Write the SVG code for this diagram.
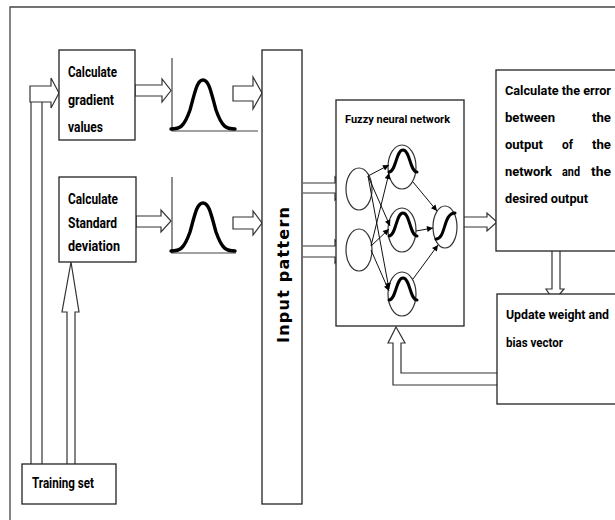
<svg xmlns="http://www.w3.org/2000/svg" width="615" height="520" viewBox="0 0 615 520">
<defs>
<marker id="ah" viewBox="0 0 10 10" refX="10" refY="5" markerWidth="7" markerHeight="6" orient="auto" markerUnits="userSpaceOnUse">
<path d="M0,0 L10,5 L0,10 Z" fill="#000"/>
</marker>
<style>
.box{fill:#fff;stroke:#222;stroke-width:1.3}
.harrow{fill:#fff;stroke:#333;stroke-width:1.2;stroke-linejoin:miter}
.line{fill:none;stroke:#333;stroke-width:1.2}
.axis{fill:none;stroke:#444;stroke-width:1.2}
.curve{fill:none;stroke:#000;stroke-width:3.4;stroke-linecap:round}
.node{fill:#fff;stroke:#333;stroke-width:1.2}
.wave{fill:none;stroke:#000;stroke-width:3;stroke-linecap:round}
.conn{fill:none;stroke:#111;stroke-width:1;marker-end:url(#ah)}
.t{font-family:Roboto,"Liberation Sans",Arial,sans-serif;font-weight:bold;font-size:13px;fill:#000}
.tl{font-family:Roboto,"Liberation Sans",Arial,sans-serif;font-weight:bold;font-size:14px;fill:#000}
.ts{font-family:Roboto,"Liberation Sans",Arial,sans-serif;font-weight:bold;font-size:11px;fill:#000}
.tv{font-family:"DejaVu Sans",Verdana,sans-serif;font-weight:bold;font-size:16px;fill:#000}
</style>
</defs>

<g id="frame">
<path d="M10,520 L10,7 L615,7" fill="none" stroke="#444" stroke-width="1.3"/>
</g>

<g id="connectors">
<path class="line" d="M31,464 L31,102"/>
<path class="line" d="M42,464 L42,102"/>
<path class="harrow" d="M30,86 L51,86 L51,78 L59,93 L51,108 L51,102 L30,102 Z"/>
<path class="harrow" d="M67,464 L67,312 L62,312 L71,262 L79,312 L75,312 L75,464"/>
<path class="harrow" d="M135,85 L162,85 L162,79 L171,90.5 L162,102 L162,96 L135,96 Z"/>
<path class="harrow" d="M136,216 L161,216 L161,210 L171,221 L161,232 L161,227 L136,227 Z"/>
<path class="harrow" d="M233,86 L253,86 L253,77 L262,93 L253,109 L253,101 L233,101 Z"/>
<path class="harrow" d="M233,217 L253,217 L253,211 L262,223 L253,235 L253,229 L233,229 Z"/>
<path class="harrow" d="M303,183 L335,183 L335,177 L346,188 L335,200 L335,193 L303,193"/>
<path class="harrow" d="M303,246 L335,246 L335,240 L346,251 L335,263 L335,257 L303,257"/>
<path class="harrow" d="M458,217 L487,217 L487,213 L497,222 L487,231 L487,227 L458,227 Z"/>
<path class="harrow" d="M552,250 L552,289 L546,289 L554,301 L564,289 L560,289 L560,250"/>
<path class="harrow" d="M497,385 L393,385 L393,343 L388,343 L396,327 L405,343 L401,343 L401,373 L497,373"/>
</g>

<g id="gradient-box">
<rect class="box" x="59" y="50" width="76" height="90"/>
<text class="tl" x="68" y="77" textLength="49" lengthAdjust="spacingAndGlyphs">Calculate</text>
<text class="tl" x="68" y="105" textLength="46" lengthAdjust="spacingAndGlyphs">gradient</text>
<text class="tl" x="68" y="132" textLength="35" lengthAdjust="spacingAndGlyphs">values</text>
</g>

<g id="std-box">
<rect class="box" x="59" y="177" width="77" height="85"/>
<text class="tl" x="68" y="204" textLength="50" lengthAdjust="spacingAndGlyphs">Calculate</text>
<text class="tl" x="68" y="228" textLength="49" lengthAdjust="spacingAndGlyphs">Standard</text>
<text class="tl" x="68" y="251" textLength="52" lengthAdjust="spacingAndGlyphs">deviation</text>
</g>

<g id="gaussian-1">
<path class="axis" d="M172,58 L172,131 L258,131"/>
<path class="curve" d="M171,129 C180,129 184,127 190,110 C195,92 197,80 203,80 C209,80 211,92 216,110 C222,127 226,129 235,129"/>
</g>

<g id="gaussian-2">
<path class="axis" d="M172,177 L172,253 M171,253 L236,253"/>
<path class="curve" d="M171,251 C180,251 184,249 190,232 C195,214 197,203 203,203 C209,203 211,214 216,232 C222,249 226,251 235,251"/>
</g>

<g id="input-pattern">
<rect class="box" x="262" y="50" width="40" height="454"/>
<text class="tv" transform="translate(289,343) rotate(-90)" textLength="136" lengthAdjust="spacing">Input pattern</text>
</g>

<g id="fuzzy-neural-network">
<rect class="box" x="336" y="100" width="128" height="226"/>
<text class="ts" x="345" y="123" textLength="105" lengthAdjust="spacingAndGlyphs">Fuzzy neural network</text>
<ellipse class="node" cx="359" cy="189" rx="13" ry="21"/>
<ellipse class="node" cx="359" cy="250" rx="13" ry="21"/>
<ellipse class="node" cx="402" cy="167" rx="14" ry="22"/>
<ellipse class="node" cx="402" cy="230" rx="14" ry="22"/>
<ellipse class="node" cx="402" cy="294" rx="14" ry="22"/>
<ellipse class="node" cx="445" cy="227" rx="12" ry="21"/>
<path class="wave" d="M389,172 C396,172 396,150 403,150 C410,150 410,172 417,172"/>
<path class="wave" d="M389,236 C396,236 396,213 403,213 C410,213 410,236 417,236"/>
<path class="wave" d="M389,300 C396,300 396,278 403,278 C410,278 410,300 417,300"/>
<path class="wave" d="M436,239 C446,239 443,213 455,213"/>
<path class="conn" d="M368,176 L389,165"/>
<path class="conn" d="M368,176 L390,226"/>
<path class="conn" d="M368,176 L389,289"/>
<path class="conn" d="M371,246 L389,173"/>
<path class="conn" d="M371,246 L389,229"/>
<path class="conn" d="M371,250 L389,291"/>
<path class="conn" d="M413,182 L437,211"/>
<path class="conn" d="M416,231 L433,228"/>
<path class="conn" d="M413,279 L438,245"/>
</g>

<g id="error-box">
<rect class="box" x="496" y="70" width="130" height="181"/>
<text class="t" x="505" y="95" textLength="106" lengthAdjust="spacingAndGlyphs">Calculate the error</text>
<text class="t" y="122"><tspan x="505" textLength="50" lengthAdjust="spacingAndGlyphs">between</tspan><tspan x="592" textLength="19" lengthAdjust="spacingAndGlyphs">the</tspan></text>
<text class="t" y="149"><tspan x="505" textLength="38" lengthAdjust="spacingAndGlyphs">output</tspan><tspan x="562" textLength="11" lengthAdjust="spacingAndGlyphs">of</tspan><tspan x="592" textLength="19" lengthAdjust="spacingAndGlyphs">the</tspan></text>
<text class="t" y="176"><tspan x="505" textLength="47" lengthAdjust="spacingAndGlyphs">network</tspan><tspan x="562" textLength="18" lengthAdjust="spacingAndGlyphs">and</tspan><tspan x="591" textLength="20" lengthAdjust="spacingAndGlyphs">the</tspan></text>
<text class="t" x="505" y="203" textLength="83" lengthAdjust="spacingAndGlyphs">desired output</text>
</g>

<g id="update-box">
<rect class="box" x="497" y="294" width="130" height="110"/>
<text class="t" x="506" y="319" textLength="103" lengthAdjust="spacingAndGlyphs">Update weight and</text>
<text class="t" x="506" y="347" textLength="57" lengthAdjust="spacingAndGlyphs">bias vector</text>
</g>

<g id="training-set">
<rect class="box" x="22" y="464" width="94" height="40"/>
<text class="tl" x="32" y="488" textLength="62" lengthAdjust="spacingAndGlyphs">Training set</text>
</g>
</svg>
